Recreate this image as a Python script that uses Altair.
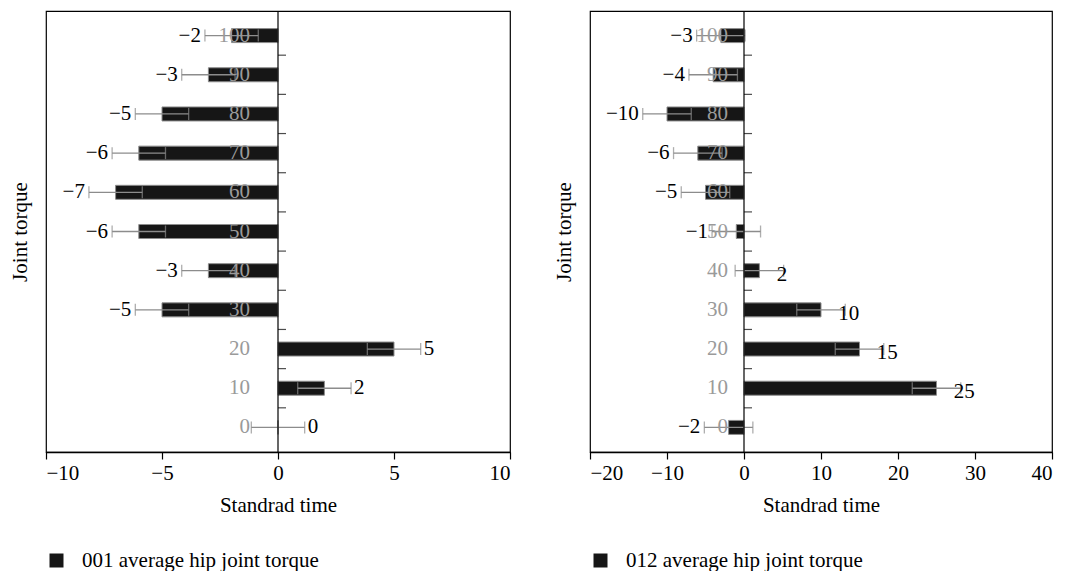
import altair as alt
import pandas as pd

# ---- data ----
categories = [0, 10, 20, 30, 40, 50, 60, 70, 80, 90, 100]
left_values = [0, 2, 5, -5, -3, -6, -7, -6, -5, -3, -2]
left_errors = [1.15, 1.15, 1.15, 1.15, 1.15, 1.15, 1.15, 1.15, 1.15, 1.15, 1.15]
right_values = [-2, 25, 15, 10, 2, -1, -5, -6, -10, -4, -3]
right_errors = [3.15, 3.15, 3.15, 3.15, 3.15, 3.15, 3.15, 3.15, 3.15, 3.15, 3.15]
band_edges = [5, 15, 25, 35, 45, 55, 65, 75, 85, 95]
left_ticks = [-10, -5, 0, 5, 10]
right_ticks = [-20, -10, 0, 10, 20, 30, 40]
left_name = "001 average hip joint torque"
right_name = "012 average hip joint torque"

FONT = "Liberation Serif"
FS = 21
XT = "Standrad time"
YT = "Joint torque"
GRAY = "#8c8c8c"
BAR = "#161616"


def panel(values, errors, name, xdomain, xticks, width, cat_dx, pos_dx, pos_dy):
    df = pd.DataFrame({"cat": categories, "value": values, "err": errors,
                       "series": [name] * len(categories)})
    base = alt.Chart(df).transform_calculate(
        lo="datum.value - datum.err", hi="datum.value + datum.err", zero="0"
    )
    xs = alt.Scale(domain=xdomain, nice=False, zero=False)
    ys = alt.Scale(domain=[-5, 105], nice=False, zero=False)

    bars = base.mark_bar(size=14, orient="horizontal", stroke=GRAY, strokeWidth=1).encode(
        x=alt.X("value:Q", scale=xs, title=XT,
                axis=alt.Axis(values=xticks, tickSize=7, labelPadding=3,
                              titlePadding=11, domainWidth=1.5, tickWidth=1.2)),
        x2=alt.X2("zero:Q"),
        y=alt.Y("cat:Q", scale=ys, title=YT,
                axis=alt.Axis(labels=False, ticks=False, domain=False, titlePadding=16)),
        color=alt.Color("series:N", scale=alt.Scale(domain=[name], range=[BAR]),
                        legend=alt.Legend(title=None, orient="none", legendX=0, legendY=539,
                                          symbolType="square", symbolSize=196,
                                          symbolStrokeWidth=0, labelFont=FONT,
                                          labelFontSize=FS, labelColor="black",
                                          labelOffset=15, labelLimit=500, padding=0)),
    )
    err_line = base.mark_rule(color=GRAY, strokeWidth=1.3).encode(
        x=alt.X("lo:Q", scale=xs, title=XT), x2="hi:Q",
        y=alt.Y("cat:Q", scale=ys, title=YT),
    )
    caps = base.transform_fold(["lo", "hi"], as_=["end", "pos"]).mark_tick(
        orient="vertical", size=12, thickness=1.3, color=GRAY
    ).encode(
        x=alt.X("pos:Q", scale=xs, title=XT),
        y=alt.Y("cat:Q", scale=ys, title=YT),
    )
    zero_line = alt.Chart(pd.DataFrame({"z": [0]})).mark_rule(
        color="black", strokeWidth=1.2
    ).encode(x=alt.X("z:Q", scale=xs, title=XT))
    edge_ticks = alt.Chart(pd.DataFrame({"edge": band_edges, "z": [0] * len(band_edges)})).mark_tick(
        orient="horizontal", size=8, thickness=1.2, xOffset=4, color="black"
    ).encode(
        x=alt.X("z:Q", scale=xs, title=XT),
        y=alt.Y("edge:Q", scale=ys, title=YT),
    )
    cat_labels = base.mark_text(
        align="right", baseline="middle", dx=cat_dx, color="#9a9a9a", font=FONT, fontSize=FS
    ).encode(
        x=alt.X("zero:Q", scale=xs, title=XT),
        y=alt.Y("cat:Q", scale=ys, title=YT),
        text=alt.Text("cat:Q", format="d"),
    )
    neg_labels = base.transform_filter("datum.value < 0").mark_text(
        align="right", baseline="middle", dx=-4, color="black", font=FONT, fontSize=FS
    ).encode(
        x=alt.X("lo:Q", scale=xs, title=XT),
        y=alt.Y("cat:Q", scale=ys, title=YT),
        text=alt.Text("value:Q", format="d"),
    )
    pos_labels = base.transform_filter("datum.value >= 0").mark_text(
        align="left", baseline="middle", dx=pos_dx, dy=pos_dy, color="black", font=FONT, fontSize=FS
    ).encode(
        x=alt.X("hi:Q", scale=xs, title=XT),
        y=alt.Y("cat:Q", scale=ys, title=YT),
        text=alt.Text("value:Q", format="d"),
    )
    return alt.layer(bars, err_line, caps, zero_line, edge_ticks, cat_labels,
                     neg_labels, pos_labels).properties(width=width, height=441)


left = panel(left_values, left_errors, left_name, [-10, 10], left_ticks, 464, -28, 3, 0)
right = panel(right_values, right_errors, right_name, [-20, 40], right_ticks, 462, -16, -7, 4)

chart = alt.hconcat(left, right, spacing=40).resolve_scale(
    color="independent"
).resolve_legend(color="independent").properties(
    padding={"left": 0, "top": 1, "right": 2, "bottom": 0}
).configure_view(
    stroke="black", strokeWidth=1.2
).configure_axis(
    labelFont=FONT, titleFont=FONT, labelFontSize=FS, titleFontSize=FS,
    titleFontWeight="normal", labelColor="black", titleColor="black",
    domainColor="black", tickColor="black", grid=False
)

chart.save("out.html", embed_options={"renderer": "svg", "actions": False})
